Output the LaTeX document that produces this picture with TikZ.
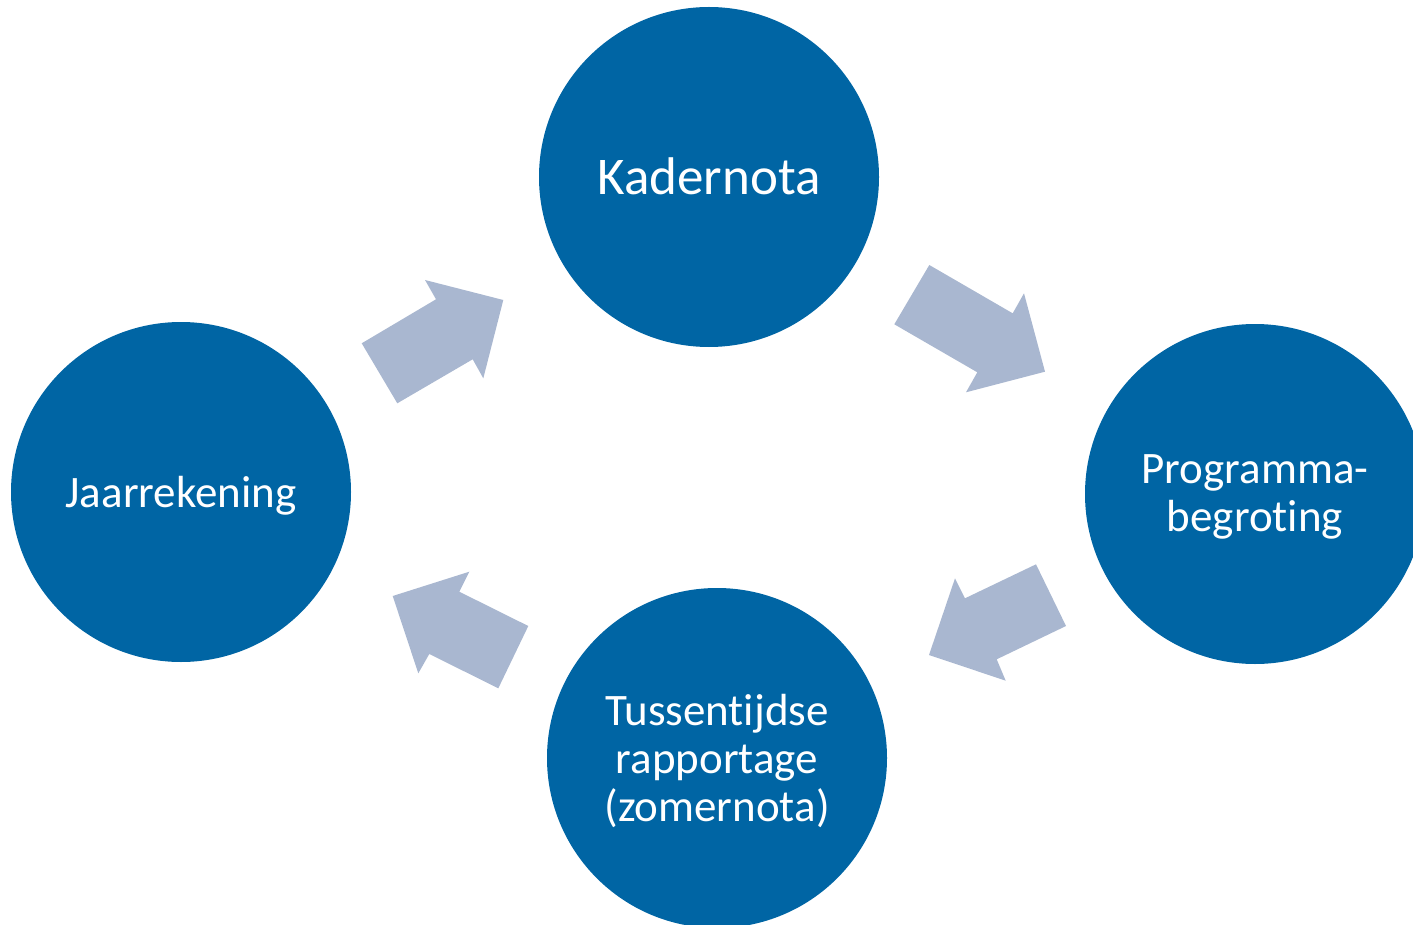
\documentclass[tikz,border=0pt]{standalone}
\usepackage{fontspec}
\setmainfont{Carlito}[Ligatures=NoCommon]
\definecolor{circblue}{RGB}{0,101,164}
\definecolor{arrowgrey}{RGB}{169,183,208}
\begin{document}
\begin{tikzpicture}[x=1pt,y=-1pt,
  stage/.style={circle,fill=circblue,draw=none,minimum size=340pt,inner sep=0pt,
    text=white,align=center},
  bigtxt/.style={font=\fontsize{53}{58}\selectfont},
  smalltxt/.style={font=\fontsize{45}{48}\selectfont},
  blockarrow/.style={fill=arrowgrey,draw=none}]
\useasboundingbox (0,0) rectangle (1413,925);
\clip (0,0) rectangle (1413,925);
\fill[circblue] (709,177) circle (170);
\fill[circblue] (1255,494) circle (170);
\fill[circblue] (717,758) circle (170);
\fill[circblue] (181,492) circle (170);
\node[text=white,align=center,bigtxt] (kader) at (709,176) {Kadernota};
\node[text=white,align=center,smalltxt] (begr) at (1255,497) {Programma-\\begroting};
\node[text=white,align=center,smalltxt] (tuss) at (717,761) {Tussentijdse\\rapportage\\(zomernota)};
\node[text=white,align=center,smalltxt] (jaar) at (181,496) {Jaarrekening};
% arrow Jaarrekening -> Kadernota
\fill[blockarrow] (361.7,343.3) -- (436,299.3) -- (425,280) -- (503.3,300) -- (483.3,378.3) -- (472.7,359.3) -- (397.3,403.3) -- cycle;
% arrow Kadernota -> Programmabegroting
\fill[blockarrow] (929.3,265) -- (1012.7,313.3) -- (1024,293.3) -- (1045,371.7) -- (966,392.3) -- (977.3,372.3) -- (894.3,324.3) -- cycle;
% arrow Programmabegroting -> Tussentijdse
\fill[blockarrow] (1036,564.3) -- (1066,626) -- (996.7,659.3) -- (1005.7,680.7) -- (929,655) -- (955,578.3) -- (965,598.3) -- cycle;
% arrow Tussentijdse -> Jaarrekening
\fill[blockarrow] (528.3,626) -- (498.3,688.3) -- (429.3,654) -- (418.3,673.3) -- (392.7,596) -- (469.3,571.7) -- (459.3,591.7) -- cycle;
\end{tikzpicture}
\end{document}
